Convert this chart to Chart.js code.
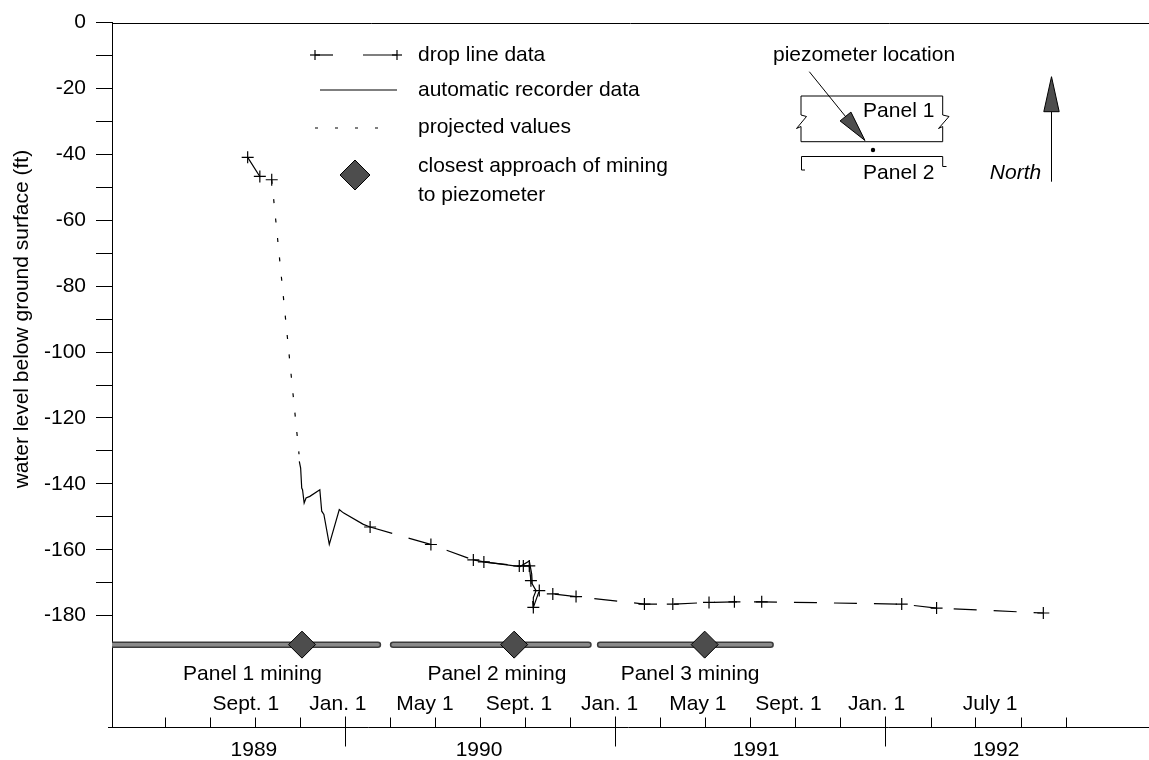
<!DOCTYPE html>
<html>
<head>
<meta charset="utf-8">
<script src="https://cdn.jsdelivr.net/npm/chart.js@4.4.0/dist/chart.umd.min.js"></script>
<style>
  html, body { margin: 0; padding: 0; background: #fff; overflow: hidden; }
  #wrap { width: 1149px; height: 760px; position: relative; }
  #waterChart { display: block; }
</style>
</head>
<body>
<div id="wrap"><canvas id="waterChart"></canvas></div>
<script>
// dates are decimal years, levels are ft below ground surface
// null level = break in the line (projection takes over there)
const dropDates = [1989.640, 1989.685, 1989.729, 1989.780, 1990.093, 1990.318, 1990.475, 1990.514,
    1990.645, 1990.660, 1990.682, 1990.688, 1990.697, 1990.719, 1990.769, 1990.855,
    1991.108, 1991.213, 1991.347, 1991.441, 1991.542, 1992.060, 1992.189, 1992.584];
const dropLevels = [-40.9, -46.7, -47.7, null, -153.1, -158.4, -163.1, -163.7,
    -164.9, -164.9, -164.9, -169.4, -177.5, -172.4, -173.4, -174.2,
    -176.5, -176.5, -176.0, -175.8, -175.8, -176.5, -177.7, -179.2];

const recorderDates = [1989.831, 1989.836, 1989.840, 1989.843, 1989.849, 1989.856, 1989.870, 1989.907,
    1989.914, 1989.922, 1989.942, 1989.979, 1989.994, 1990.068, 1990.093, 1990.300,
    1990.475, 1990.514, 1990.648, 1990.682, 1990.691, 1990.693, 1990.707, 1990.697, 1990.697];
const recorderLevels = [-133.2, -135.2, -141.3, -141.8, -145.8, -144.3, -143.8, -141.8,
    -148.3, -149.3, -158.4, -147.8, -148.8, -152.3, -153.1, null,
    -163.1, -163.7, -165.1, -163.4, -167.4, -170.4, -172.4, -174.5, -177.6];

const projectedDates = [1989.729, 1989.830];
const projectedLevels = [-47.7, -131.0];

const panelNames = ['Panel 1 mining', 'Panel 2 mining', 'Panel 3 mining'];
const miningStart = [1989.140, 1990.178, 1990.944];
const miningEnd = [1990.122, 1990.901, 1991.575];
const closestApproach = [1989.841, 1990.626, 1991.331];
const miningRow = -188.8;
const panelLabelAt = [1989.658, 1990.562, 1991.277];

const yTicks = [0, -10, -20, -30, -40, -50, -60, -70, -80, -90, -100,
    -110, -120, -130, -140, -150, -160, -170, -180];
const monthTicks = [1989.333, 1989.500, 1989.667, 1989.833, 1990.167, 1990.333, 1990.500, 1990.667, 1990.833,
    1991.167, 1991.333, 1991.500, 1991.667, 1991.833, 1992.167, 1992.333, 1992.500, 1992.667];
const yearStarts = [1990, 1991, 1992];
const monthLabels = ['Sept. 1', 'Jan. 1', 'May 1', 'Sept. 1', 'Jan. 1', 'May 1', 'Sept. 1', 'Jan. 1', 'July 1'];
const monthLabelAt = [1989.633, 1989.974, 1990.296, 1990.644, 1990.979, 1991.306, 1991.641, 1991.967, 1992.387];
const yearLabels = ['1989', '1990', '1991', '1992'];
const yearLabelAt = [1989.663, 1990.496, 1991.521, 1992.409];

const FONT = "21px 'Liberation Sans', Arial, sans-serif";

function pairs(xs, ys) {
    return xs.map((d, i) => ({ x: d, y: ys[i] }));
}

// bars split by null so one dataset draws all three
const barPoints = [];
miningStart.forEach((s, i) => {
    if (i > 0) barPoints.push({ x: (miningEnd[i - 1] + s) / 2, y: null });
    barPoints.push({ x: s, y: miningRow }, { x: miningEnd[i], y: miningRow });
});

function line(ctx, x1, y1, x2, y2) {
    ctx.beginPath();
    ctx.moveTo(x1, y1);
    ctx.lineTo(x2, y2);
    ctx.stroke();
}

function plus(ctx, cx, cy, r) {
    line(ctx, cx - r, cy, cx + r, cy);
    line(ctx, cx, cy - r, cx, cy + r);
}

function diamond(ctx, cx, cy, r) {
    ctx.beginPath();
    ctx.moveTo(cx, cy - r);
    ctx.lineTo(cx + r, cy);
    ctx.lineTo(cx, cy + r);
    ctx.lineTo(cx - r, cy);
    ctx.closePath();
    ctx.fillStyle = '#4d4d4d';
    ctx.fill();
    ctx.stroke();
    ctx.fillStyle = '#000';
}

function arrowHead(ctx, tx, ty, bx, by, half) {
    const dx = tx - bx, dy = ty - by;
    const len = Math.hypot(dx, dy);
    const px = -dy / len * half, py = dx / len * half;
    ctx.beginPath();
    ctx.moveTo(tx, ty);
    ctx.lineTo(bx + px, by + py);
    ctx.lineTo(bx - px, by - py);
    ctx.closePath();
    ctx.fillStyle = '#4d4d4d';
    ctx.fill();
    ctx.stroke();
    ctx.fillStyle = '#000';
}

function drawLegend(ctx) {
    ctx.lineWidth = 1.2;
    // drop line sample
    plus(ctx, 315, 55, 5);
    line(ctx, 315, 55, 333, 55);
    line(ctx, 363, 55, 397, 55);
    plus(ctx, 397, 55, 5);
    // recorder sample
    line(ctx, 320, 90, 397, 90);
    // projected sample
    ctx.setLineDash([3, 17]);
    line(ctx, 315, 128, 382, 128);
    ctx.setLineDash([]);
    ctx.lineWidth = 1;
    diamond(ctx, 355, 175, 15);

    ctx.textAlign = 'left';
    ctx.textBaseline = 'middle';
    ctx.fillText('drop line data', 418, 55);
    ctx.fillText('automatic recorder data', 418, 90);
    ctx.fillText('projected values', 418, 127);
    ctx.fillText('closest approach of mining', 418, 166);
    ctx.fillText('to piezometer', 418, 195);
}

function drawInset(ctx) {
    ctx.lineWidth = 1;
    ctx.textBaseline = 'middle';
    ctx.textAlign = 'left';
    ctx.fillText('piezometer location', 773, 55);

    // Panel 1 outline with break marks on both ends
    ctx.beginPath();
    ctx.moveTo(801, 115);
    ctx.lineTo(801, 96);
    ctx.lineTo(942.7, 96);
    ctx.lineTo(942.7, 115);
    ctx.lineTo(949, 116.5);
    ctx.lineTo(938.5, 128.5);
    ctx.lineTo(942.7, 126.5);
    ctx.lineTo(942.7, 141.7);
    ctx.lineTo(801, 141.7);
    ctx.lineTo(801, 126.5);
    ctx.lineTo(796.5, 128.5);
    ctx.lineTo(806.5, 116.5);
    ctx.lineTo(801, 115);
    ctx.stroke();

    // Panel 2 bracket
    ctx.beginPath();
    ctx.moveTo(805, 170);
    ctx.lineTo(801.5, 170);
    ctx.lineTo(801.5, 156.5);
    ctx.lineTo(942.7, 156.5);
    ctx.lineTo(942.7, 166.5);
    ctx.lineTo(946.5, 166.5);
    ctx.stroke();

    ctx.beginPath();
    ctx.arc(873, 150, 2.2, 0, Math.PI * 2);
    ctx.fill();

    // pointer to piezometer
    line(ctx, 809.3, 71.7, 850, 122);
    arrowHead(ctx, 865, 140.5, 845.5, 116.5, 7);

    ctx.textAlign = 'center';
    ctx.fillText('Panel 1', 898.7, 111);
    ctx.fillText('Panel 2', 898.7, 173);
    ctx.font = "italic " + FONT;
    ctx.fillText('North', 1015.5, 173);
    ctx.font = FONT;

    line(ctx, 1051.5, 181.7, 1051.5, 111.7);
    arrowHead(ctx, 1051.5, 76.7, 1051.5, 111.7, 7.7);
}

const decorations = {
    id: 'decorations',
    afterDraw(chart) {
        const { ctx, chartArea: area, scales: { x, y } } = chart;
        ctx.save();
        ctx.strokeStyle = '#000';
        ctx.fillStyle = '#000';
        ctx.lineWidth = 1;

        const top = Math.round(area.top) + 0.5;
        const bottom = Math.round(area.bottom) + 0.5;
        line(ctx, area.left, top, area.right, top);
        line(ctx, area.left - 4, bottom, area.right, bottom);

        monthTicks.forEach(d => {
            const px = Math.round(x.getPixelForValue(d)) + 0.5;
            line(ctx, px, bottom - 10, px, bottom);
        });
        yearStarts.forEach(d => {
            const px = Math.round(x.getPixelForValue(d)) + 0.5;
            line(ctx, px, bottom - 11, px, bottom + 19);
        });

        ctx.font = FONT;
        ctx.textAlign = 'center';
        ctx.textBaseline = 'alphabetic';
        monthLabels.forEach((t, i) => ctx.fillText(t, x.getPixelForValue(monthLabelAt[i]), bottom - 18));
        yearLabels.forEach((t, i) => ctx.fillText(t, x.getPixelForValue(yearLabelAt[i]), bottom + 28));
        const barY = y.getPixelForValue(miningRow);
        panelNames.forEach((t, i) => ctx.fillText(t, x.getPixelForValue(panelLabelAt[i]), barY + 35));

        // axis title, centred on the labelled range
        ctx.save();
        ctx.translate(22.5, (y.getPixelForValue(0) + y.getPixelForValue(-180)) / 2);
        ctx.rotate(-Math.PI / 2);
        ctx.textBaseline = 'middle';
        ctx.fillText('water level below ground surface (ft)', 0, 0);
        ctx.restore();

        drawLegend(ctx);
        drawInset(ctx);
        ctx.restore();
    }
};

Chart.defaults.font.family = "'Liberation Sans', Arial, sans-serif";
Chart.defaults.font.size = 21;
Chart.defaults.color = '#000';

const waterChart = new Chart(document.getElementById('waterChart').getContext('2d'), {
    type: 'scatter',
    data: {
        datasets: [
            {
                label: 'closest approach of mining to piezometer',
                data: closestApproach.map(d => ({ x: d, y: miningRow })),
                showLine: false,
                pointStyle: 'rectRot',
                pointRadius: 13.5,
                pointBackgroundColor: '#4d4d4d',
                pointBorderColor: '#000',
                pointBorderWidth: 1
            },
            {
                label: 'mining core',
                data: barPoints,
                showLine: true,
                borderColor: '#8a8a8a',
                borderWidth: 3.5,
                borderCapStyle: 'round',
                pointRadius: 0,
                spanGaps: false
            },
            {
                label: 'mining',
                data: barPoints,
                showLine: true,
                borderColor: '#3c3c3c',
                borderWidth: 6.5,
                borderCapStyle: 'round',
                pointRadius: 0,
                spanGaps: false
            },
            {
                label: 'drop line data',
                data: pairs(dropDates, dropLevels),
                showLine: true,
                borderColor: '#000',
                borderWidth: 1.2,
                borderDash: [23, 17],
                pointStyle: 'cross',
                pointRadius: 6,
                pointBorderColor: '#000',
                pointBorderWidth: 1.2,
                spanGaps: false
            },
            {
                label: 'automatic recorder data',
                data: pairs(recorderDates, recorderLevels),
                showLine: true,
                borderColor: '#000',
                borderWidth: 1.2,
                pointRadius: 0,
                spanGaps: false
            },
            {
                label: 'projected values',
                data: pairs(projectedDates, projectedLevels),
                showLine: true,
                borderColor: '#000',
                borderWidth: 1.2,
                borderDash: [4, 15.5],
                pointRadius: 0
            }
        ]
    },
    options: {
        responsive: true,
        maintainAspectRatio: false,
        animation: false,
        layout: { autoPadding: false, padding: { left: 0, top: 18, right: 0, bottom: 33 } },
        plugins: {
            legend: { display: false },
            tooltip: { enabled: false }
        },
        scales: {
            x: {
                type: 'linear',
                min: 1989.138,
                max: 1992.975,
                display: false
            },
            y: {
                type: 'linear',
                min: -213.8,
                max: 0,
                afterBuildTicks: (scale) => { scale.ticks = yTicks.map(v => ({ value: v })); },
                afterFit: (scale) => { scale.width = 112; },
                ticks: {
                    padding: 10,
                    callback: (v) => (v % 20 === 0 ? String(v) : '')
                },
                grid: {
                    drawOnChartArea: false,
                    drawTicks: true,
                    tickLength: 16,
                    color: '#000',
                    lineWidth: 1
                },
                border: { display: true, color: '#000', width: 1 }
            }
        }
    },
    plugins: [decorations]
});
</script>
</body>
</html>
